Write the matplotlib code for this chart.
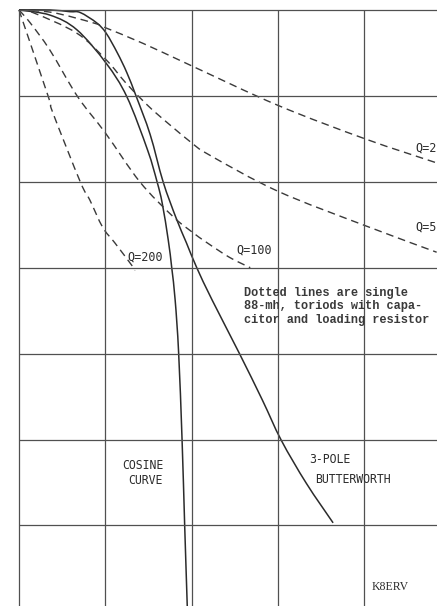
import matplotlib
matplotlib.use("Agg")
import matplotlib.pyplot as plt
from matplotlib.path import Path
from matplotlib.patches import PathPatch

# grid units: x = frequency divisions, y = attenuation divisions (down)
grid_x = [0, 1, 2, 3, 4]
grid_y = [0, 1, 2, 3, 4, 5, 6]

butter_x = [0, 0.36, 0.59, 0.71, 0.90, 1.01, 1.14, 1.25, 1.36, 1.52, 1.67, 1.82,
            1.94, 2.06, 2.24, 2.55, 2.82, 3.04, 3.33, 3.64]
butter_y = [0, 0.00, 0.02, 0.03, 0.15, 0.27, 0.50, 0.73, 1.01, 1.45, 2.00, 2.42,
            2.71, 3.00, 3.38, 3.99, 4.54, 5.01, 5.51, 5.97]

cosine_x = [0, 0.36, 0.67, 1.01, 1.25, 1.49, 1.60, 1.66, 1.73, 1.77, 1.81, 1.85,
            1.89, 1.92, 1.95]
cosine_y = [0, 0.06, 0.23, 0.62, 1.01, 1.63, 2.00, 2.25, 2.68, 3.00, 3.38, 3.99,
            5.01, 6.00, 6.94]

q25_x = [0, 0.39, 0.86, 1.01, 1.44, 2.00, 3.00, 4.01, 4.84]
q25_y = [0, 0.03, 0.15, 0.21, 0.39, 0.65, 1.11, 1.50, 1.78]

q50_x = [0, 0.16, 0.67, 1.01, 1.23, 1.43, 1.60, 1.98, 2.21, 3.00, 4.01, 4.84]
q50_y = [0, 0.03, 0.27, 0.58, 0.84, 1.05, 1.21, 1.53, 1.69, 2.11, 2.51, 2.82]

q100_x = [0, 0.13, 0.36, 0.68, 1.00, 1.40, 1.78, 2.00, 2.18, 2.44, 2.68]
q100_y = [0, 0.15, 0.47, 1.01, 1.43, 2.00, 2.40, 2.58, 2.71, 2.88, 3.00]

q200_x = [0, 0.34, 0.39, 0.71, 0.82, 0.97, 1.11, 1.32, 1.34]
q200_y = [0, 1.01, 1.19, 2.00, 2.21, 2.53, 2.71, 2.99, 3.03]

x_lo, x_hi = -0.220, 4.844
y_top, y_bot = -0.116, 6.938


def smooth_curve(xs, ys):
    # catmull-rom through the read points, drawn as cubic bezier segments
    pts = list(zip(xs, ys))
    n = len(pts)
    verts = [pts[0]]
    codes = [Path.MOVETO]
    for i in range(n - 1):
        p0 = pts[i - 1] if i > 0 else pts[i]
        p1 = pts[i]
        p2 = pts[i + 1]
        p3 = pts[i + 2] if i + 2 < n else pts[i + 1]
        c1 = (p1[0] + (p2[0] - p0[0]) / 6, p1[1] + (p2[1] - p0[1]) / 6)
        c2 = (p2[0] - (p3[0] - p1[0]) / 6, p2[1] - (p3[1] - p1[1]) / 6)
        verts += [c1, c2, p2]
        codes += [Path.CURVE4] * 3
    return Path(verts, codes)


fig = plt.figure(figsize=(4.37, 6.06), dpi=100)
ax = fig.add_axes([0, 0, 1, 1])
ax.set_xlim(x_lo, x_hi)
ax.set_ylim(y_bot, y_top)
ax.axis("off")

ink = "#2b2b2b"
ax.vlines(grid_x, 0, y_bot, color="#505050", lw=0.9)
ax.hlines(grid_y, 0, x_hi, color="#505050", lw=0.9)

for xs, ys in [(butter_x, butter_y), (cosine_x, cosine_y)]:
    ax.add_patch(PathPatch(smooth_curve(xs, ys), fill=False, edgecolor=ink, lw=1.1))

dash = (0, (5.5, 3.5))
for xs, ys in [(q25_x, q25_y), (q50_x, q50_y), (q100_x, q100_y), (q200_x, q200_y)]:
    ax.add_patch(PathPatch(smooth_curve(xs, ys), fill=False, edgecolor="#3a3a3a",
                           lw=1.0, linestyle=dash))

mono = "DejaVu Sans Mono"
ax.text(4.59, 1.61, "Q=2", fontsize=8.5, family=mono, color=ink, va="center")
ax.text(4.59, 2.53, "Q=5", fontsize=8.5, family=mono, color=ink, va="center")
ax.text(2.72, 2.79, "Q=100", fontsize=8.5, family=mono, color=ink, va="center", ha="center")
ax.text(1.46, 2.88, "Q=200", fontsize=8.5, family=mono, color=ink, va="center", ha="center")

ax.text(2.61, 3.22, "Dotted lines are single\n88-mh, toriods with capa-\ncitor and loading resistor",
        fontsize=8.6, family="Liberation Mono", weight="bold", color="#3a3a3a",
        va="top", linespacing=1.2)

ax.text(1.67, 5.39, "COSINE\nCURVE", fontsize=8.3, family=mono, color=ink,
        va="center", ha="right", multialignment="right", linespacing=1.15)
ax.text(3.36, 5.23, "3-POLE", fontsize=8.3, family=mono, color=ink, va="center")
ax.text(3.43, 5.47, "BUTTERWORTH", fontsize=8.3, family=mono, color=ink, va="center")
ax.text(4.09, 6.72, "K8ERV", fontsize=8.5, family="Liberation Serif", color=ink, va="center")

fig.savefig("out.png", dpi=100, facecolor="white")
